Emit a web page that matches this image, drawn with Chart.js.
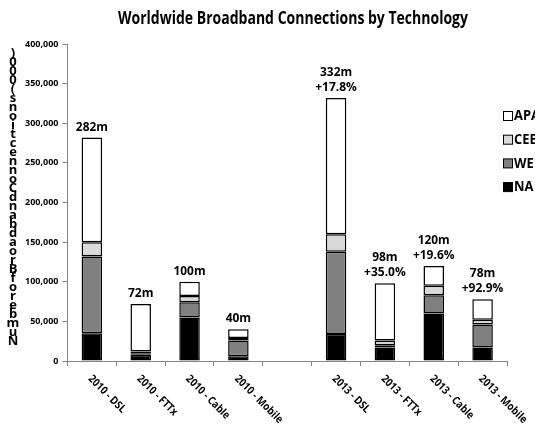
<!DOCTYPE html>
<html>
<head>
<meta charset="utf-8">
<script src="https://cdn.jsdelivr.net/npm/chart.js@4"></script>
<style>
  html, body { margin: 0; padding: 0; background: #fff; }
  #wrap { width: 535px; height: 436px; position: relative; }
</style>
</head>
<body>
<div id="wrap"><canvas id="chart-broadband"></canvas></div>
<script>
// connections in thousands, per region, stacked bottom-up: NA, WE, CEE, AP
var categories = ['2010 - DSL', '2010 - FTTx', '2010 - Cable', '2010 - Mobile', '', '2013 - DSL', '2013 - FTTx', '2013 - Cable', '2013 - Mobile'];
var na  = [35000, 8000, 55000, 6000, null, 34000, 17000, 60000, 17000];
var we  = [97000, 1000, 19000, 20000, null, 104000, 3000, 23000, 29000];
var cee = [18000, 3000, 8000, 3000, null, 22000, 6000, 12000, 6000];
var ap  = [132000, 60000, 18000, 11000, null, 172000, 72000, 25000, 26000];
var growth = ['', '', '', '', '', '+17.8%', '+35.0%', '+19.6%', '+92.9%'];
var yTicks = [0, 50000, 100000, 150000, 200000, 250000, 300000, 350000, 400000];

var titleText = 'Worldwide Broadband Connections by Technology';
var yTitle = 'Number of Broadband Connections (000)';
var FONT = '"Open Sans", "Liberation Sans", sans-serif';
var AXIS = '#868686';

function _series(label, data, color) {
  return {
    label: label, data: data, backgroundColor: color,
    borderColor: '#000', borderWidth: 1.5, borderSkipped: false,
    barPercentage: 0.42, categoryPercentage: 1
  };
}

// draw text narrowed horizontally so it fits a given width
function _fitText(ctx, text, x, y, maxW) {
  var w = ctx.measureText(text).width, sx = Math.min(1, maxW / w);
  ctx.save();
  ctx.translate(x, y);
  ctx.scale(sx, 1);
  ctx.fillText(text, 0, 0);
  ctx.restore();
}

// title, stacked y title, totals above bars, rotated x labels, legend
var decorations = {
  id: 'decorations',
  afterDatasetsDraw: function(chart) {
    var ctx = chart.ctx, x = chart.scales.x, y = chart.scales.y;
    ctx.save();
    ctx.fillStyle = '#000';

    ctx.font = 'bold 17px ' + FONT;
    ctx.textAlign = 'center';
    ctx.textBaseline = 'alphabetic';
    _fitText(ctx, titleText, 293, 24, 350);

    // y title: characters stacked bottom to top, spaces dropped
    ctx.font = 'bold 13px ' + FONT;
    ctx.textBaseline = 'middle';
    var chars = yTitle.replace(/ /g, '');
    for (var c = 0; c < chars.length; c++) {
      ctx.fillText(chars.charAt(c), 13, 341 - c * 9);
    }

    // totals and growth above each bar
    ctx.font = 'bold 12px ' + FONT;
    ctx.textBaseline = 'alphabetic';
    categories.forEach(function(cat, i) {
      if (!cat) return;
      var total = na[i] + we[i] + cee[i] + ap[i];
      var px = x.getPixelForValue(i), py = y.getPixelForValue(total) - 7;
      if (growth[i]) {
        _fitText(ctx, growth[i], px, py, 44);
        py -= 15;
      }
      _fitText(ctx, Math.round(total / 1000) + 'm', px, py, 32);
    });

    // category labels, slanting down to the right
    ctx.font = 'bold 11px ' + FONT;
    ctx.textAlign = 'left';
    ctx.textBaseline = 'middle';
    categories.forEach(function(cat, i) {
      if (!cat) return;
      ctx.save();
      ctx.translate(x.getPixelForValue(i) - 2, y.bottom + 16);
      ctx.rotate(Math.PI / 4);
      ctx.scale(0.88, 1);
      ctx.fillText(cat, 0, 0);
      ctx.restore();
    });

    // legend at the right edge, top series first
    ctx.font = 'bold 15px ' + FONT;
    var items = chart.data.datasets.slice().reverse();
    items.forEach(function(ds, k) {
      var ly = 116 + k * 23.7;
      ctx.fillStyle = ds.backgroundColor;
      ctx.fillRect(503.5, ly - 4.5, 9, 9);
      ctx.strokeStyle = '#000';
      ctx.lineWidth = 1;
      ctx.strokeRect(503.5, ly - 4.5, 9, 9);
      ctx.fillStyle = '#000';
      ctx.save();
      ctx.translate(514, ly);
      ctx.scale(0.86, 1);
      ctx.fillText(ds.label, 0, 0);
      ctx.restore();
    });
    ctx.restore();
  }
};

new Chart(document.getElementById('chart-broadband'), {
  type: 'bar',
  data: {
    labels: categories,
    datasets: [
      _series('NA', na, '#000000'),
      _series('WE', we, '#808080'),
      _series('CEE', cee, '#d9d9d9'),
      _series('APAC', ap, '#ffffff')
    ]
  },
  options: {
    responsive: true,
    maintainAspectRatio: false,
    animation: false,
    layout: { padding: { left: 21, right: 28, top: 44, bottom: 70 } },
    plugins: { legend: { display: false }, title: { display: false }, tooltip: { enabled: false } },
    scales: {
      x: {
        stacked: true,
        ticks: { display: false },
        grid: { display: true, drawOnChartArea: false, tickLength: 5, color: AXIS },
        border: { color: AXIS, width: 1 }
      },
      y: {
        stacked: true,
        min: 0, max: 400000,
        afterBuildTicks: function(scale) { scale.ticks = yTicks.map(function(v) { return { value: v }; }); },
        ticks: {
          padding: 4, color: '#000',
          font: { family: FONT, size: 9, weight: 'bold' },
          callback: function(v) { return v.toLocaleString('en-US'); }
        },
        grid: { display: true, drawOnChartArea: false, tickLength: 5, color: AXIS },
        border: { color: AXIS, width: 1 }
      }
    }
  },
  plugins: [decorations]
});
</script>
</body>
</html>
